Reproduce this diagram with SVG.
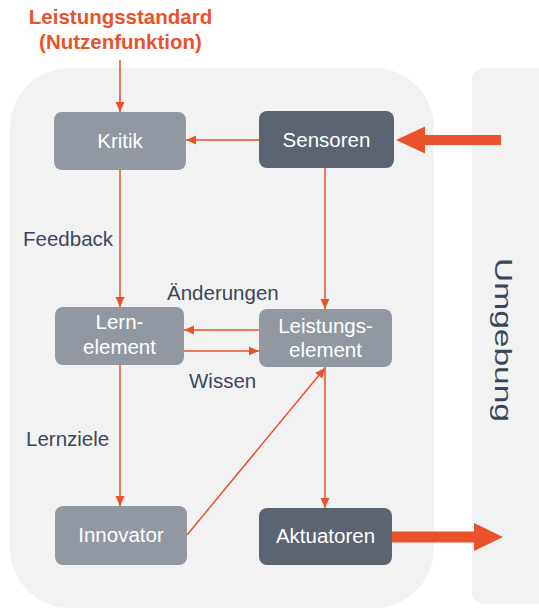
<svg xmlns="http://www.w3.org/2000/svg" width="539" height="608" viewBox="0 0 539 608">
<style>
.bg{fill:#f2f2f2}
.nl{fill:#9198a1}
.nd{fill:#5b6470}
.nt{font-family:"Liberation Sans",Arial,sans-serif;font-size:20.5px;fill:#ffffff;text-anchor:middle}
.lb{font-family:"Liberation Sans",Arial,sans-serif;font-size:20.5px;fill:#3a475a}
.ttl{font-family:"Liberation Sans",Arial,sans-serif;font-size:20.5px;font-weight:bold;fill:#e9522a;text-anchor:middle}
.c{stroke:#e9522a;stroke-width:1.5;fill:none;marker-end:url(#ah)}
.big{fill:#e9522a}
</style>
<defs>
<marker id="ah" markerUnits="userSpaceOnUse" markerWidth="10" markerHeight="10" viewBox="0 0 10 10" refX="10" refY="5" orient="auto">
<path d="M0,0.5 L10,5 L0,9.5 Z" fill="#e9522a"/>
</marker>
</defs>
<rect class="bg" x="10" y="68" width="424" height="540" rx="60" ry="60"/>
<rect class="bg" x="472" y="68" width="80" height="536" rx="12" ry="12"/>
<text class="lb" transform="translate(495,258) rotate(90)" textLength="164" lengthAdjust="spacingAndGlyphs" style="font-size:24.5px">Umgebung</text>
<text class="ttl" x="120.5" y="24">Leistungsstandard</text>
<text class="ttl" x="120.5" y="49">(Nutzenfunktion)</text>
<g id="connectors">
<line class="c" x1="120" y1="60" x2="120" y2="112"/>
<line class="c" x1="259" y1="140" x2="186" y2="140"/>
<line class="c" x1="120" y1="170" x2="120" y2="307"/>
<line class="c" x1="325" y1="168" x2="325" y2="309"/>
<line class="c" x1="259" y1="330" x2="184" y2="330"/>
<line class="c" x1="184" y1="351" x2="259" y2="351"/>
<line class="c" x1="120" y1="365" x2="120" y2="506"/>
<line class="c" x1="187" y1="535" x2="325" y2="368"/>
<line class="c" x1="325" y1="367" x2="325" y2="508"/>
<path class="big" d="M501,135 L425,135 L425,126.5 L396,140 L425,153.5 L425,145 L501,145 Z"/>
<path class="big" d="M392,531.5 L474,531.5 L474,523 L503,537 L474,551 L474,542.5 L392,542.5 Z"/>
</g>
<g id="kritik"><rect class="nl" x="54" y="112" width="132" height="58" rx="8"/><text class="nt" x="120" y="148">Kritik</text></g>
<g id="sensoren"><rect class="nd" x="259" y="111" width="135" height="57" rx="8"/><text class="nt" x="326.5" y="147">Sensoren</text></g>
<g id="lernelement"><rect class="nl" x="55" y="307" width="129" height="58" rx="8"/><text class="nt" x="119.5" y="329">Lern-</text><text class="nt" x="119.5" y="354">element</text></g>
<g id="leistungselement"><rect class="nl" x="259" y="309" width="133" height="58" rx="8"/><text class="nt" x="325.5" y="333">Leistungs-</text><text class="nt" x="325.5" y="357">element</text></g>
<g id="innovator"><rect class="nl" x="55" y="506" width="132" height="59" rx="8"/><text class="nt" x="121" y="542">Innovator</text></g>
<g id="aktuatoren"><rect class="nd" x="259" y="508" width="133" height="57" rx="8"/><text class="nt" x="325.5" y="543">Aktuatoren</text></g>
<g id="labels">
<text class="lb" x="23" y="246">Feedback</text>
<text class="lb" x="167" y="300">Änderungen</text>
<text class="lb" x="189" y="388">Wissen</text>
<text class="lb" x="26" y="446">Lernziele</text>
</g>
</svg>
